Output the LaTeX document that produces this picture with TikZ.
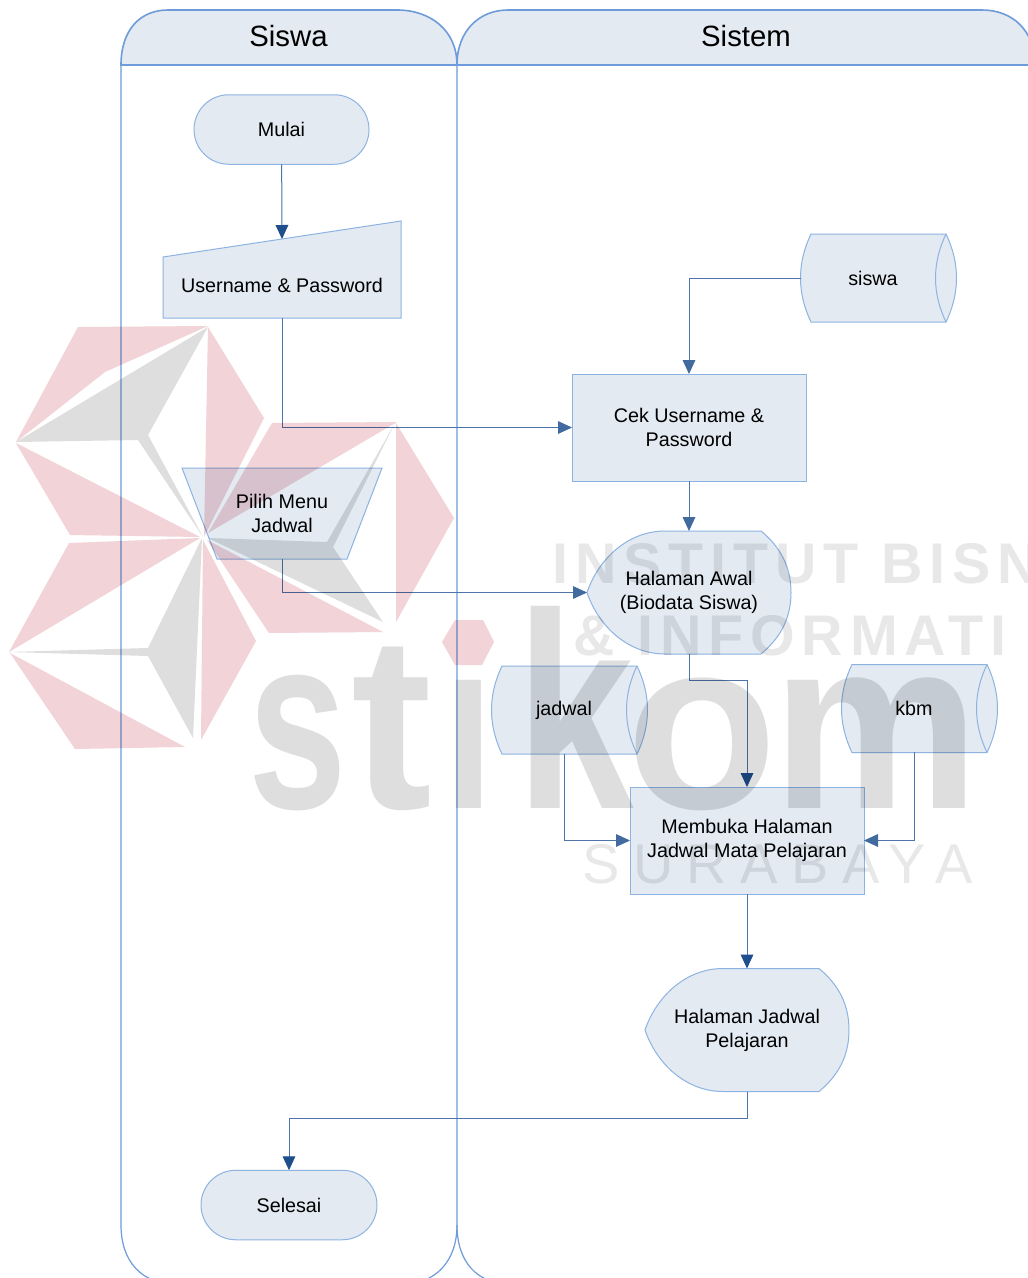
\documentclass[tikz,border=0pt]{standalone}
\usepackage{fontspec}
\setmainfont{Liberation Sans}
\newfontfamily\bisnisfont{Liberation Sans}[LetterSpace=12]
\newfontfamily\kotafont{Liberation Sans}[LetterSpace=24]
\usetikzlibrary{arrows.meta,backgrounds,shapes.misc}
\definecolor{laneblue}{HTML}{6E9BD9}
\definecolor{shapeblue}{HTML}{8DB3E2}
\definecolor{shapefill}{HTML}{E3EAF2}
\definecolor{flowblue}{HTML}{4E74A8}
\definecolor{tipblue}{HTML}{416A9F}
\definecolor{tipdark}{HTML}{1F4E8C}
\definecolor{wmred}{HTML}{F2D3D7}
\definecolor{wmgrey}{HTML}{DEDEDE}
\definecolor{wmtext}{HTML}{E8E8E8}
\newcommand{\px}{0.75pt}
\tikzset{
  lane/.style={draw=laneblue,line width=1.2pt},
  shapeline/.style={draw=shapeblue,fill=shapefill,line width=0.75pt},
  flow/.style={draw=flowblue,line width=0.75pt,-{Triangle[width=9.5pt,length=10.5pt,color=tipblue]}},
  darkflow/.style={draw=flowblue,line width=0.75pt,-{Triangle[width=9.5pt,length=10.5pt,color=tipdark]}},
  textbox/.style={align=center,font=\fontsize{14.8}{18}\selectfont,inner sep=0pt,outer sep=0pt},
  procbox/.style={textbox,shapeline,minimum width=234*\px,minimum height=107*\px},
  termbox/.style={textbox,shapeline,rounded rectangle,minimum width=175*\px,minimum height=69.5*\px},
  tapebox/.style={textbox,minimum width=144*\px,minimum height=87*\px},
  dispbox/.style={textbox,minimum width=204*\px,minimum height=123*\px}
}
\newcommand{\tapeshape}[1]{%
  \begin{scope}[on background layer,shift={(#1.center)}]
    \draw[shapeline] (-62,-44) -- (73,-44)
      .. controls (87,-15) and (87,15) .. (73,44) -- (-62,44)
      .. controls (-76,15) and (-76,-15) .. (-62,-44) -- cycle;
    \draw[draw=shapeblue,line width=0.75pt] (73,-44) .. controls (59,-15) and (59,15) .. (73,44);
  \end{scope}}
\newcommand{\dispshape}[1]{%
  \begin{scope}[on background layer,shift={(#1.center)}]
    \draw[shapeline] (-24,-61.5) -- (72,-61.5)
      .. controls (92,-45) and (102,-25) .. (102,0)
      .. controls (102,25) and (92,45) .. (72,61.5) -- (-24,61.5)
      .. controls (-60,61.5) and (-90,35) .. (-102,0)
      .. controls (-90,-35) and (-60,-61.5) .. (-24,-61.5) -- cycle;
  \end{scope}}
\begin{document}
\begin{tikzpicture}[x=0.75pt,y=-0.75pt]
      \useasboundingbox (0,0) rectangle (1028,1278);
      \clip (0,0) rectangle (1028,1278);
      \begin{scope}[on background layer]
        \fill[white] (0,0) rectangle (1028,1278);
        \draw[lane,fill=shapefill] (121,65) .. controls (121,30) and (140,10) .. (168,10) -- (397,10)
          .. controls (430,10) and (457,30) .. (457,65) -- cycle;
        \draw[lane,fill=shapefill] (457,65) .. controls (457,30) and (480,10) .. (508,10) -- (982,10)
          .. controls (1012,10) and (1035,30) .. (1035,65) -- cycle;
        \draw[draw=laneblue,line width=0.9pt] (121,65) -- (121,1225) .. controls (121,1260) and (140,1285) .. (180,1285) -- (398,1285)
          .. controls (437,1285) and (457,1260) .. (457,1225) -- (457,65);
        \draw[draw=laneblue,line width=0.9pt] (457,1225) .. controls (457,1260) and (475,1285) .. (515,1285) -- (1040,1285);
        \draw[shapeline] (163,257) -- (401,221) -- (401,318) -- (163,318) -- cycle;
        \draw[shapeline] (182,468) -- (382,468) -- (347,559) -- (217,559) -- cycle;
      \end{scope}
      \node[font=\fontsize{22}{26}\selectfont] (siswahead) at (288.5,36) {Siswa};
      \node[font=\fontsize{22}{26}\selectfont] (sistemhead) at (746,36) {Sistem};
      \node[termbox] (mulai) at (281.5,129.5) {Mulai};
      \node[textbox,minimum width=238*\px,minimum height=66*\px] (user) at (282,285) {Username \& Password};
      \coordinate (usertop) at (282,239);
      \node[textbox,minimum width=165*\px,minimum height=91*\px] (menu) at (282,513.5) {Pilih Menu\\Jadwal};
      \node[tapebox] (siswadb) at (873,278) {siswa};
      \node[procbox] (cek) at (689,427.5) {Cek Username \&\\Password};
      \node[dispbox] (awal) at (689,592.5) {Halaman Awal\\(Biodata Siswa)};
      \node[tapebox] (jadwaldb) at (564,710) {jadwal};
      \node[tapebox] (kbmdb) at (914,708.5) {kbm};
      \node[procbox] (buka) at (747,840.5) {Membuka Halaman\\Jadwal Mata Pelajaran};
      \node[dispbox] (tampil) at (747,1030) {Halaman Jadwal\\Pelajaran};
      \node[termbox,minimum width=176*\px] (selesai) at (289,1205) {Selesai};
      \tapeshape{siswadb}
      \tapeshape{jadwaldb}
      \tapeshape{kbmdb}
      \dispshape{awal}
      \dispshape{tampil}
      \draw[darkflow] (mulai) -- (usertop);
      \draw[flow] (user.south) |- (cek.west);
      \draw[flow] (siswadb.west) -| (cek.north);
      \draw[flow] (cek.south) -- (awal.north);
      \draw[flow] (menu.south) |- (awal.west);
      \draw[darkflow] (awal.south) -- ++(0,26) -| (buka.north);
      \draw[flow] (jadwaldb.south) |- (buka.west);
      \draw[flow] (kbmdb.south) |- (buka.east);
      \draw[darkflow] (buka.south) -- (tampil.north);
      \draw[darkflow] (tampil.south) -- ++(0,27) -| (selesai.north);
      \begin{scope}[blend mode=multiply]
        \fill[wmred] (78,327) -- (208,326) -- (105,372) -- (16,442) -- cycle;
        \fill[wmgrey] (16,442) -- (208,327) -- (148,435) -- (203,537) -- (138,440) -- cycle;
        \fill[wmred] (208,327) -- (264,418) -- (204,537) -- cycle;
        \fill[wmred] (16,443) -- (200,537) -- (70,535) -- cycle;
        \fill[wmred] (69,543) -- (200,538) -- (9,652) -- cycle;
        \fill[wmgrey] (9,652) -- (148,648) -- (202,538) -- (193,738) -- (148,656) -- cycle;
        \fill[wmred] (10,653) -- (185,747) -- (75,749) -- cycle;
        \fill[wmred] (203,540) -- (256,641) -- (201,740) -- cycle;
        \fill[wmred] (207,540) -- (383,632) -- (269,633) -- cycle;
        \fill[wmgrey] (208,538) -- (327,542) -- (395,423) -- (333,547) -- (383,622) -- cycle;
        \fill[wmred] (272,423) -- (397,422) -- (208,533) -- cycle;
        \fill[wmred] (396,423) -- (454,518) -- (396,622) -- cycle;
        \fill[wmred] (442,642) -- (455,620) -- (483,620) -- (494,642) -- (482,665) -- (455,665) -- cycle;
        \foreach \nm/\ltr/\xpos/\xs/\ys in {s/s/298/0.73/1.02,t/t/392/1/1.02,i/\i/468.5/0.75/1,k/k/575/0.87/1.15,o/o/702/1.02/1,m/m/876/0.96/1}
          \node[text=wmgrey,font=\bfseries\fontsize{182}{190}\selectfont,inner sep=0pt,anchor=base] (wm\nm) at (\xpos,808) {\scalebox{\xs}[\ys]{\ltr}};
        \node[text=wmtext,font=\bisnisfont\bfseries\fontsize{43}{48}\selectfont,inner sep=0pt,anchor=base west] (wminstitut) at (552,583) {INSTITUT BISN};
        \node[text=wmtext,font=\bisnisfont\bfseries\fontsize{43}{48}\selectfont,inner sep=0pt,anchor=base west] (wminformatika) at (573,655) {\& INFORMATI};
        \node[text=wmtext,font=\kotafont\fontsize{42}{48}\selectfont,inner sep=0pt,anchor=base west] (wmsurabaya) at (582,883) {SURABAYA};
      \end{scope}
    \end{tikzpicture}
\end{document}
